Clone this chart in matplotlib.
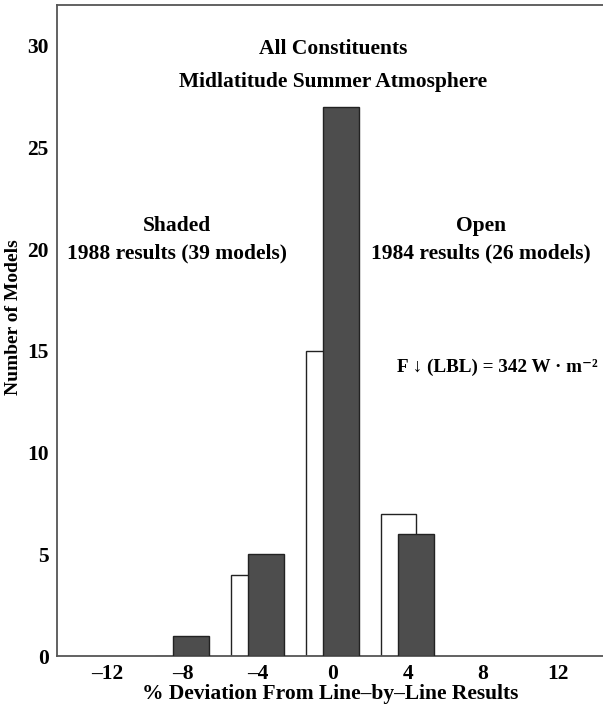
import matplotlib.pyplot as plt

# data
bins = [-8, -4, 0, 4]
open_1984 = [0, 4, 15, 7]      # 26 models
shaded_1988 = [1, 5, 27, 6]    # 39 models
xticks = [-12, -8, -4, 0, 4, 8, 12]
yticks = [0, 5, 10, 15, 20, 25, 30]

plt.rcParams['font.family'] = ['Liberation Serif', 'DejaVu Serif']
plt.rcParams['font.weight'] = 'bold'

fig = plt.figure(figsize=(6.03, 7.07), dpi=100)
ax = fig.add_axes([0.0945, 0.072, 0.9055, 0.921])

w = 1.9
ax.bar([b - 0.5 for b in bins], open_1984, width=w, color='white',
       edgecolor='#222222', linewidth=1.0, zorder=2)
ax.bar([b + 0.45 for b in bins], shaded_1988, width=w, color='#4d4d4d',
       edgecolor='#222222', linewidth=1.0, zorder=3)

ax.set_xlim(-14.7, 14.4)
ax.set_ylim(0, 32)
ax.set_xticks(xticks)
ax.set_xticklabels([str(t).replace('-', '\u2013') for t in xticks])
ax.set_yticks(yticks)
ax.tick_params(length=0, labelsize=15.5, pad=6)
ax.spines['right'].set_visible(False)
for s in ['left', 'top', 'bottom']:
    ax.spines[s].set_color('#555555')
    ax.spines[s].set_linewidth(1.3)

ax.set_xlabel('% Deviation From Line\u2013by\u2013Line Results', fontsize=15.5,
              fontweight='bold')
ax.xaxis.set_label_coords(0.5, -0.043)
ax.set_ylabel('Number of Models', fontsize=14, fontweight='bold')
ax.yaxis.set_label_coords(-0.064, 0.52)

fs = 15.5
ax.text(0, 29.85, 'All Constituents', ha='center', va='center', fontsize=fs)
ax.text(0, 28.2, 'Midlatitude Summer Atmosphere', ha='center', va='center', fontsize=fs)
ax.text(-8.3, 21.15, 'Shaded', ha='center', va='center', fontsize=fs)
ax.text(-8.3, 19.8, '1988 results (39 models)', ha='center', va='center', fontsize=fs)
ax.text(7.9, 21.15, 'Open', ha='center', va='center', fontsize=fs)
ax.text(7.9, 19.8, '1984 results (26 models)', ha='center', va='center', fontsize=fs)
ax.text(14.1, 14.2, 'F \u2193 (LBL) = 342 W \u00b7 m\u207b\u00b2',
        ha='right', va='center', fontsize=13.8)

fig.savefig('out.png', dpi=100)
